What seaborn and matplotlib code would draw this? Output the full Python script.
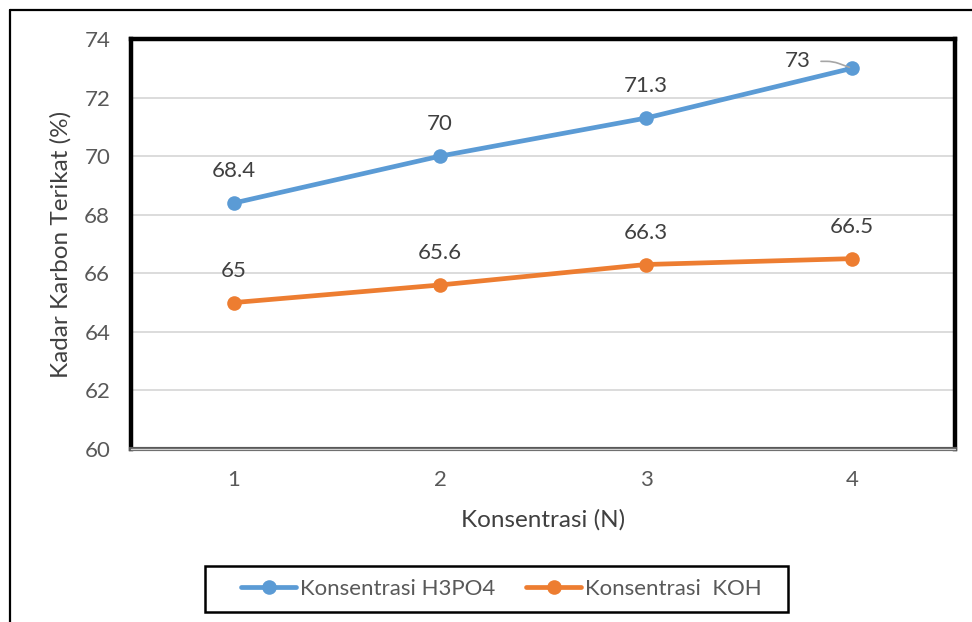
import matplotlib
matplotlib.use("Agg")
import matplotlib.pyplot as plt
from matplotlib.lines import Line2D
from matplotlib.patches import Rectangle
import seaborn as sns
import pandas as pd

# Data
konsentrasi = [1, 2, 3, 4]
h3po4 = [68.4, 70, 71.3, 73]
koh = [65, 65.6, 66.3, 66.5]
series_names = ["Konsentrasi H3PO4", "Konsentrasi  KOH"]
y_ticks = [60, 62, 64, 66, 68, 70, 72, 74]

colors = ["#5B9BD5", "#ED7D31"]
text_gray = "#595959"
label_gray = "#404040"
small_fs = 16
title_fs = 17.5

df = pd.DataFrame({
    "Konsentrasi": konsentrasi * 2,
    "Kadar": h3po4 + koh,
    "Seri": [series_names[0]] * 4 + [series_names[1]] * 4,
})

sns.set_style("white")
plt.rcParams["font.family"] = ["Lato", "DejaVu Sans"]

fig = plt.figure(figsize=(9.72, 6.22), dpi=100)
ax = fig.add_axes([131 / 972, 1 - 449 / 622, 824 / 972, 410 / 622])

sns.lineplot(data=df, x="Konsentrasi", y="Kadar", hue="Seri", palette=colors,
             marker="o", markersize=10.5, markeredgewidth=0, linewidth=3.4,
             ax=ax, legend=False, zorder=3)

ax.set_xlim(0.5, 4.5)
ax.set_ylim(60, 74)
ax.set_yticks(y_ticks)
ax.set_xticks(konsentrasi)
ax.set_xticklabels([str(k) for k in konsentrasi])
for yv in y_ticks[1:-1]:
    ax.axhline(yv, color="#d9d9d9", lw=1.3, zorder=1)

ax.tick_params(axis="both", length=0, labelsize=small_fs, labelcolor=text_gray)
ax.tick_params(axis="y", pad=15)
ax.tick_params(axis="x", pad=15)

for side in ["left", "top", "right"]:
    ax.spines[side].set_color("black")
    ax.spines[side].set_linewidth(3.2)
ax.spines["bottom"].set_color("#595959")
ax.spines["bottom"].set_linewidth(3.0)
ax.axhline(60, color="#d0d0d0", lw=1.0, zorder=5, clip_on=False)

ax.set_xlabel("Konsentrasi (N)", fontsize=title_fs, color=label_gray)
ax.set_ylabel("Kadar Karbon Terikat (%)", fontsize=title_fs, color=label_gray)
ax.xaxis.set_label_coords(0.5, -0.146)
ax.yaxis.set_label_coords(-0.0716, 0.5)

# Value labels
for x, y in zip(konsentrasi[:-1], h3po4[:-1]):
    ax.annotate(f"{y:g}", (x, y), xytext=(0, 23), textcoords="offset points",
                ha="center", va="center", fontsize=small_fs, color=label_gray)
ax.annotate(f"{h3po4[-1]:g}", (konsentrasi[-1], h3po4[-1]), xytext=(-39, 5),
            textcoords="offset points", ha="center", va="center",
            fontsize=small_fs, color=label_gray,
            arrowprops=dict(arrowstyle="-", color="#a6a6a6", lw=1.2,
                            shrinkA=5, shrinkB=2,
                            connectionstyle="angle,angleA=0,angleB=160,rad=6"))
for x, y in zip(konsentrasi, koh):
    ax.annotate(f"{y:g}", (x, y), xytext=(0, 23), textcoords="offset points",
                ha="center", va="center", fontsize=small_fs, color=label_gray)

# Legend with its own box
handles = [Line2D([], [], color=c, lw=3.4, marker="o", markersize=10.5,
                  markeredgewidth=0) for c in colors]
leg = fig.legend(handles, series_names, loc="center",
                 bbox_to_anchor=(501 / 972, 1 - 589 / 622), ncol=2,
                 fontsize=small_fs, frameon=False, handlelength=2.5,
                 handletextpad=0.14, columnspacing=1.4, labelcolor=text_gray)
fig.add_artist(Rectangle((205 / 972, 1 - 612 / 622), 583 / 972, 46 / 622,
                         transform=fig.transFigure, fill=False,
                         edgecolor="black", lw=1.8))

# Outer chart frame
fig.add_artist(Line2D([10 / 972, 10 / 972], [0, 1 - 10 / 622],
                      color="black", lw=1.6, transform=fig.transFigure))
fig.add_artist(Line2D([10 / 972, 1], [1 - 10 / 622, 1 - 10 / 622],
                      color="black", lw=1.6, transform=fig.transFigure))

fig.savefig("out.png", dpi=100, facecolor="white")
